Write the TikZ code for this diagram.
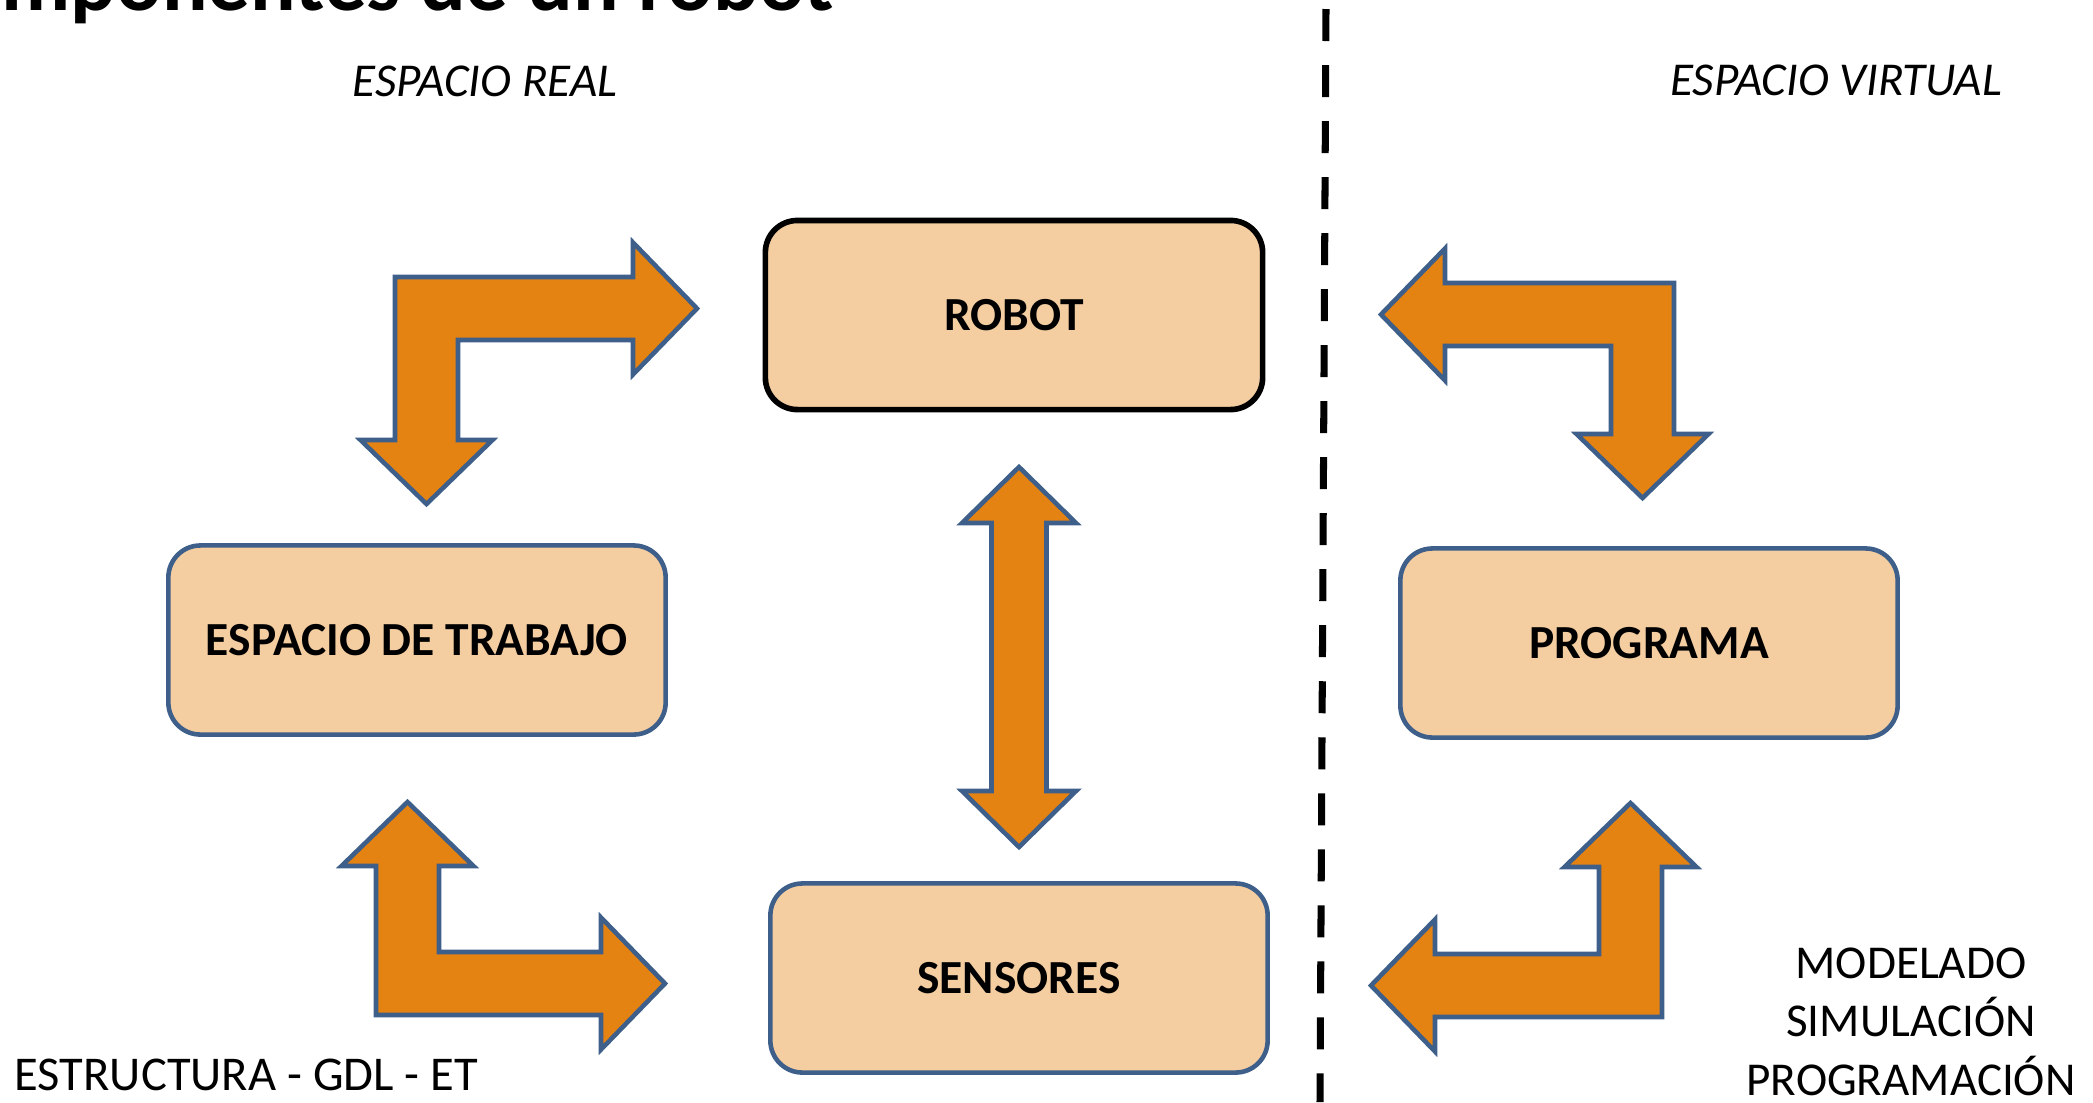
\documentclass[tikz,border=0pt]{standalone}
\usepackage{fontspec}
\setmainfont{Carlito}
\definecolor{cajafondo}{RGB}{244,205,161}
\definecolor{flechanaranja}{RGB}{228,130,18}
\definecolor{bordeazul}{RGB}{62,95,138}
\tikzset {
    caja/.style={draw=bordeazul, line width=1.3pt, fill=cajafondo,
        rounded corners=0.32cm, minimum width=4.97cm, minimum height=1.89cm,
        font=\fontsize{13.5}{16}\selectfont\bfseries},
    bloque/.style={draw=bordeazul, line width=1.3pt, fill=flechanaranja,
        line join=miter},
    rotulo/.style={inner sep=0pt, font=\fontsize{13.4}{16.5}\selectfont},
    divisoria/.style={line width=2pt, dash pattern=on 9.1pt off 6.83pt}
}
% medidas de las flechas en L (px)
\def\bawid{63}
\def\bahalf{66}
\def\balen{64}
% esquina x, esquina y, sentido x, sentido y, punta x, punta y
\newcommand{\bentarrow}[6]{%
    \pgfmathsetmacro{\bahy}{#2+(#4)*\bawid/2}%
    \pgfmathsetmacro{\bavx}{#1+(#3)*\bawid/2}%
    \pgfmathsetmacro{\bahb}{#5-(#3)*\balen}%
    \pgfmathsetmacro{\bavb}{#6-(#4)*\balen}%
    \draw[bloque] (#1,#2) -- (\bahb,#2) -- ({\bahb},{\bahy-(#4)*\bahalf})
        -- (#5,\bahy) -- ({\bahb},{\bahy+(#4)*\bahalf})
        -- ({\bahb},{#2+(#4)*\bawid}) -- ({#1+(#3)*\bawid},{#2+(#4)*\bawid})
        -- ({#1+(#3)*\bawid},{\bavb}) -- ({\bavx+(#3)*\bahalf},{\bavb})
        -- (\bavx,#6) -- ({\bavx-(#3)*\bahalf},{\bavb}) -- (#1,\bavb) -- cycle;
}
\begin{document}
\begin{tikzpicture}[x=0.01cm, y=-0.01cm]
    \useasboundingbox (0,0) rectangle (2093,1102);
    \begin{scope}
        \clip (0,0) rectangle (2093,1102);
        \node[inner sep=0pt, anchor=base west, font=\fontsize{24.2}{29}\selectfont\bfseries] (titulo) at (-90,10) {Componentes de un robot};
    \end{scope}

    \node[rotulo, anchor=base, font=\fontsize{13.4}{16.5}\selectfont\itshape] (real) at (485,96) {ESPACIO REAL};
    \node[rotulo, anchor=base, font=\fontsize{13.4}{16.5}\selectfont\itshape] (virtual) at (1836,95) {ESPACIO VIRTUAL};

    \draw[divisoria] (1326,9) -- (1320,1102);

    \node[caja, draw=black, line width=1.6pt] (robot) at (1014,315) {ROBOT};
    \node[caja] (trabajo) at (417,640) {ESPACIO DE TRABAJO};
    \node[caja] (sensores) at (1019,978) {SENSORES};
    \node[caja] (programa) at (1649,643) {PROGRAMA};

    \bentarrow{395}{277}{1}{1}{697}{504}
    \bentarrow{376}{1015}{1}{-1}{665}{802}
    \bentarrow{1674}{283}{-1}{1}{1381}{498}
    \bentarrow{1662}{1017}{-1}{-1}{1371}{803}
    \draw[bloque] (1019,467) -- (1076,523) -- (1046.5,523) -- (1046.5,791) -- (1076,791)
        -- (1019,847) -- (962,791) -- (991.5,791) -- (991.5,523) -- (962,523) -- cycle;

    \node[rotulo, anchor=base west, font=\fontsize{13.8}{16.5}\selectfont] (estructura) at (14,1090) {ESTRUCTURA - GDL - ET};
    \node[rotulo, anchor=base, align=center] (modelado) at (1911,1095) {MODELADO\\SIMULACIÓN\\PROGRAMACIÓN};
\end{tikzpicture}
\end{document}
